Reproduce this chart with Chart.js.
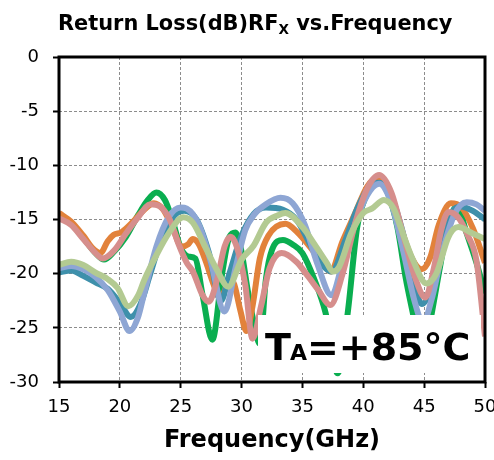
<!DOCTYPE html>
<html>
<head>
<meta charset="utf-8">
<script src="https://cdn.jsdelivr.net/npm/chart.js@4/dist/chart.umd.min.js"></script>
<style>
  html, body { margin: 0; padding: 0; background: #fff; }
  #wrap { width: 494px; height: 460px; }
</style>
</head>
<body>
<div id="wrap"><canvas id="rlChart" width="494" height="460"></canvas></div>
<script>
// tick labels
const xTicks = [15, 20, 25, 30, 35, 40, 45, 50];
const yTicks = [0, -5, -10, -15, -20, -25, -30];

// series (GHz / dB)
const greenFreq = [15, 16, 17, 18, 18.7, 19.5, 20.5, 21.5, 22.3, 23, 23.7, 24.3, 25, 25.6, 26.2, 26.8, 27.6, 28.4, 29, 29.5, 30, 30.5, 31, 31.5, 32, 32.5, 33.4, 34.2, 35, 36, 36.9, 37.9, 38.7, 39.5, 40.2, 41.1, 42, 42.8, 43.5, 44.1, 44.85, 45.6, 46.3, 47, 47.7, 48.5, 49.3, 50];
const greenDb   = [-14.7, -15.4, -16.7, -18.1, -18.7, -18, -16.6, -14.6, -13.2, -12.5, -13.2, -15, -17.6, -18.4, -18.6, -22, -26.1, -20, -16.6, -16.2, -18, -21.5, -24.5, -26.5, -20.5, -17.8, -16.9, -17.3, -18.1, -20.6, -23.6, -29.2, -23.8, -15.7, -12.9, -11.1, -12.5, -15.7, -20.5, -23.8, -28, -23.8, -19.4, -15.3, -13.8, -16.3, -19, -21.8];

const orangeFreq = [15, 16, 17, 17.8, 18.4, 19, 19.5, 20.1, 21, 22, 22.8, 23.5, 24.2, 25.1, 25.6, 26, 26.5, 27.1, 27.7, 28.2, 28.6, 29, 29.4, 29.9, 30.4, 30.9, 31.5, 32.2, 33.6, 34.6, 35.6, 36.5, 37.3, 38.3, 39.3, 40.3, 41.1, 42, 43, 44, 44.8, 45.5, 46.2, 47.2, 48, 49, 50];
const orangeDb   = [-14.4, -15.2, -16.5, -17.7, -18.1, -17, -16.4, -16.2, -15.3, -14.1, -13.5, -14, -15.4, -17.5, -17.3, -16.8, -17.3, -19, -21, -22.2, -21.6, -20.3, -21, -23.4, -25.3, -23, -18.6, -16.5, -15.4, -16.2, -17.5, -18.8, -19.8, -17, -14.5, -12, -11.2, -12.2, -15.5, -18.6, -19.6, -18.5, -15.5, -13.5, -13.8, -15.8, -19];

const tealFreq = [15, 16, 17, 18, 19, 20, 20.9, 21.7, 22.5, 23.5, 24.5, 25.3, 26.3, 27.3, 28.3, 29, 30, 31, 32, 33.4, 34.5, 35.5, 36.5, 37.4, 38.5, 39.5, 40.5, 41.3, 42.2, 43.2, 44.2, 44.8, 45.7, 46.6, 47.3, 48, 49, 50];
const tealDb   = [-19.9, -19.7, -20.2, -20.8, -21.4, -22.7, -24, -22.8, -20, -16.5, -14.6, -14.2, -15, -18, -22.5, -20, -16.5, -14.5, -13.9, -14.1, -15, -17, -19, -19.8, -17, -14, -12, -11.6, -12.6, -16, -21, -22.8, -21, -16.5, -14.3, -13.8, -14.2, -15];

const blueFreq = [15, 16, 17, 18, 19, 20, 20.8, 21.5, 22, 23, 24, 25, 25.5, 26.5, 27.5, 28.6, 29.5, 30.3, 31, 32, 33.2, 34.2, 35.2, 36.2, 37.4, 38.3, 39.3, 40.3, 41.3, 42.3, 43.3, 44.2, 44.9, 45.7, 46.5, 47.5, 48.5, 49.3, 50];
const blueDb   = [-19.5, -19.3, -19.6, -20.3, -21.5, -23.5, -25.3, -24, -21.8, -17.5, -14.8, -13.9, -14, -15.5, -19, -23.5, -19.5, -16, -14.6, -13.6, -13, -13.5, -15.5, -19, -22, -19, -15.5, -12.8, -11.7, -13.5, -18, -22.5, -24.5, -22, -18, -14.5, -13.4, -13.6, -14.2];

const pinkFreq = [15, 16, 17, 18, 18.6, 19.5, 20.5, 21.5, 22.5, 23.3, 24.1, 24.8, 25.5, 26, 26.8, 27.3, 28, 28.6, 29.1, 29.6, 30.3, 30.9, 31.6, 32.3, 33.3, 34.5, 35.5, 36.3, 37.3, 38.3, 39.3, 40.3, 41.3, 42.3, 43.3, 44.3, 45.1, 45.8, 46.4, 47, 47.8, 48.6, 49.3, 50];
const pinkDb   = [-14.9, -15.5, -16.8, -18.1, -18.6, -17.9, -16.3, -14.8, -13.6, -13.8, -15, -17.2, -19, -19.8, -22, -22.6, -20.5, -17.5, -16.6, -17.5, -21, -26, -23, -19.5, -18.1, -18.9, -20.3, -21.5, -22.9, -20, -15.5, -12.2, -10.9, -12.5, -16.5, -20.5, -22.2, -19.5, -16, -14.3, -14.8, -16.5, -18.8, -25.8];

const sageFreq = [15, 16, 17, 18, 19, 19.8, 20.7, 21.5, 22, 23, 24, 25.2, 26, 27, 28, 28.9, 30, 31, 32, 33, 33.6, 35, 36, 37, 37.5, 38, 39, 40, 40.7, 41.7, 42.5, 43, 44, 45.2, 46, 47, 47.8, 49, 50];
const sageDb   = [-19.2, -18.9, -19.2, -19.9, -20.5, -21.3, -23, -22, -20.6, -18.3, -16.3, -14.8, -15.3, -17.5, -19.7, -21.2, -18.7, -17.4, -15.3, -14.6, -14.4, -15.7, -17.3, -19, -19.8, -19.4, -16.3, -14.4, -14, -13.2, -14, -15.5, -18.5, -20.9, -20, -16.6, -15.7, -16.3, -16.8];

function pairs(xs, ys) {
    return xs.map((x, i) => ({ x: x, y: ys[i] }));
}

function series(xs, ys, color) {
    return {
        data: pairs(xs, ys),
        borderColor: color,
        borderWidth: 6,
        pointRadius: 0,
        fill: false,
        cubicInterpolationMode: "monotone"
    };
}

// title, frame and the temperature label are drawn by hand
const decorations = {
    id: "decorations",
    afterDraw(chart) {
        const ctx = chart.ctx;
        const a = chart.chartArea;
        ctx.save();

        // white label box over the lower right of the plot
        ctx.fillStyle = "#fff";
        ctx.fillRect(258, 315, 223, 58);

        ctx.strokeStyle = "#000";
        ctx.lineWidth = 3;
        ctx.strokeRect(a.left, a.top, a.right - a.left, a.bottom - a.top);

        ctx.fillStyle = "#000";
        ctx.textBaseline = "alphabetic";
        ctx.textAlign = "left";

        // title with subscript, sized to span 58..453
        const t1 = "Return Loss(dB)RF", t2 = "X", t3 = " vs.Frequency";
        ctx.font = "bold 20px 'DejaVu Sans'";
        let w = ctx.measureText(t1).width + ctx.measureText(t3).width;
        ctx.font = "bold 13px 'DejaVu Sans'";
        w += ctx.measureText(t2).width;
        const k = 395 / w;
        const big = (20 * k).toFixed(1), small = (13 * k).toFixed(1);
        let x = 58;
        ctx.font = "bold " + big + "px 'DejaVu Sans'";
        ctx.fillText(t1, x, 30);
        x += ctx.measureText(t1).width;
        ctx.font = "bold " + small + "px 'DejaVu Sans'";
        ctx.fillText(t2, x, 34);
        x += ctx.measureText(t2).width;
        ctx.font = "bold " + big + "px 'DejaVu Sans'";
        ctx.fillText(t3, x, 30);

        // TA=+85°C
        x = 265;
        ctx.font = "bold 38px 'DejaVu Sans'";
        ctx.fillText("T", x, 360);
        x += ctx.measureText("T").width - 1;
        ctx.font = "bold 22px 'DejaVu Sans'";
        ctx.fillText("A", x, 360);
        x += ctx.measureText("A").width;
        ctx.font = "bold 38px 'DejaVu Sans'";
        ctx.fillText("=+85°C", x, 360);

        ctx.restore();
    }
};

const ctx = document.getElementById("rlChart").getContext("2d");

new Chart(ctx, {
    type: "line",
    data: {
        datasets: [
            series(sageFreq, sageDb, "#b3ca92"),
            series(pinkFreq, pinkDb, "#d68e8c"),
            series(blueFreq, blueDb, "#8ea6d4"),
            series(tealFreq, tealDb, "#3e90ab"),
            series(orangeFreq, orangeDb, "#e2823b"),
            series(greenFreq, greenDb, "#0aae50")
        ]
    },
    options: {
        responsive: false,
        animation: false,
        layout: {
            padding: { top: 57, right: 9, bottom: 0, left: 0 }
        },
        plugins: {
            legend: { display: false },
            tooltip: { enabled: false }
        },
        scales: {
            x: {
                type: "linear",
                min: 15,
                max: 50,
                afterBuildTicks: s => { s.ticks = xTicks.map(v => ({ value: v })); },
                afterFit: s => { s.height = 78; s.paddingLeft = 0; s.paddingRight = 0; },
                grid: {
                    color: "#8c8c8c",
                    lineWidth: 1,
                    tickColor: "#000",
                    tickWidth: 2,
                    tickLength: 6
                },
                border: { display: false, dash: [3, 2] },
                ticks: {
                    color: "#000",
                    padding: 9,
                    maxRotation: 0,
                    font: { family: "'DejaVu Sans'", size: 18 }
                },
                title: {
                    display: true,
                    text: "Frequency(GHz)",
                    color: "#000",
                    padding: { top: 0, bottom: 5 },
                    font: { family: "'DejaVu Sans'", size: 24, weight: "bold" }
                }
            },
            y: {
                min: -30,
                max: 0,
                afterBuildTicks: s => { s.ticks = yTicks.map(v => ({ value: v })); },
                afterFit: s => { s.width = 59; },
                grid: {
                    color: "#8c8c8c",
                    lineWidth: 1,
                    tickColor: "#000",
                    tickWidth: 2,
                    tickLength: 6
                },
                border: { display: false, dash: [3, 2] },
                ticks: {
                    color: "#000",
                    padding: 14,
                    font: { family: "'DejaVu Sans'", size: 18 }
                }
            }
        }
    },
    plugins: [decorations]
});
</script>
</body>
</html>
